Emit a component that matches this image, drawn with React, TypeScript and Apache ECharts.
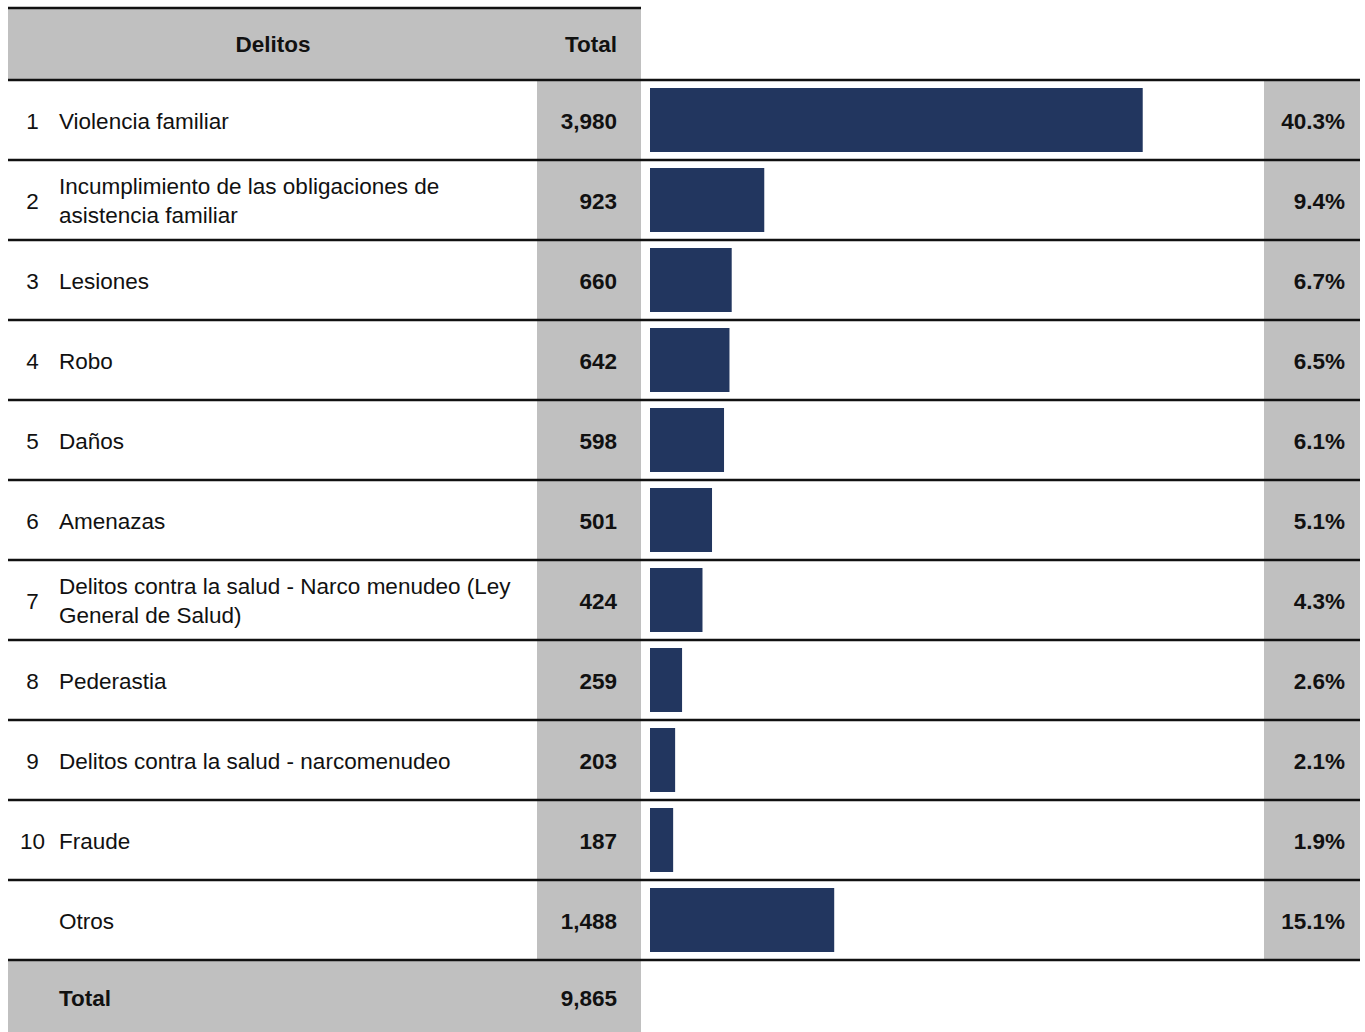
import React, { useEffect, useRef } from "react";
import * as echarts from "echarts";

const rowNumbers = ["1", "2", "3", "4", "5", "6", "7", "8", "9", "10", ""];
const categories = [
  "Violencia familiar",
  "Incumplimiento de las obligaciones de\nasistencia familiar",
  "Lesiones",
  "Robo",
  "Daños",
  "Amenazas",
  "Delitos contra la salud - Narco menudeo (Ley\nGeneral de Salud)",
  "Pederastia",
  "Delitos contra la salud - narcomenudeo",
  "Fraude",
  "Otros",
];
const totals = [3980, 923, 660, 642, 598, 501, 424, 259, 203, 187, 1488];
const percents = ["40.3%", "9.4%", "6.7%", "6.5%", "6.1%", "5.1%", "4.3%", "2.6%", "2.1%", "1.9%", "15.1%"];
const grandTotal = 9865;

const FONT = "'Liberation Sans', Arial, sans-serif";
const FS = 22.5;
const GREY = "#c0c0c0";
const BAR = "#22365f";

const fmt = (v: number) => v.toLocaleString("en-US");

export default function App() {
  const ref = useRef<HTMLDivElement>(null);
  useEffect(() => {
    if (!ref.current) return;
    const chart = echarts.init(ref.current, null, { renderer: "svg" });
    const top = 80;
    const rowH = 80;
    const n = categories.length;
    const graphics: any[] = [];
    graphics.push({ type: "rect", z: 0, shape: { x: 8, y: 8, width: 633, height: top - 8 }, style: { fill: GREY } });
    graphics.push({ type: "rect", z: 0, shape: { x: 537, y: top, width: 104, height: rowH * n }, style: { fill: GREY } });
    graphics.push({ type: "rect", z: 0, shape: { x: 1264, y: top, width: 96, height: rowH * n }, style: { fill: GREY } });
    graphics.push({ type: "rect", z: 0, shape: { x: 8, y: top + rowH * n, width: 633, height: 1032 - (top + rowH * n) }, style: { fill: GREY } });
    graphics.push({ type: "line", z: 10, shape: { x1: 8, y1: 8, x2: 641, y2: 8 }, style: { stroke: "#111", lineWidth: 2.5 } });
    for (let i = 0; i <= n; i++) {
      const y = top + rowH * i;
      graphics.push({ type: "line", z: 10, shape: { x1: 8, y1: y, x2: 1360, y2: y }, style: { stroke: "#111", lineWidth: 2.5 } });
    }
    graphics.push({ type: "text", z: 20, x: 273, y: 44, style: { text: "Delitos", fontFamily: FONT, fontSize: FS, fontWeight: "bold", fill: "#111", align: "center", verticalAlign: "middle" } });
    graphics.push({ type: "text", z: 20, x: 617, y: 44, style: { text: "Total", fontFamily: FONT, fontSize: FS, fontWeight: "bold", fill: "#111", align: "right", verticalAlign: "middle" } });
    for (let i = 0; i < n; i++) {
      const cy = top + rowH * i + 41;
      graphics.push({ type: "text", z: 20, x: 32.5, y: cy, style: { text: rowNumbers[i], fontFamily: FONT, fontSize: FS, fill: "#111", align: "center", verticalAlign: "middle" } });
      graphics.push({ type: "text", z: 20, x: 59, y: cy, style: { text: categories[i], fontFamily: FONT, fontSize: FS, lineHeight: 29, fill: "#111", align: "left", verticalAlign: "middle" } });
      graphics.push({ type: "text", z: 20, x: 617, y: cy, style: { text: fmt(totals[i]), fontFamily: FONT, fontSize: FS, fontWeight: "bold", fill: "#111", align: "right", verticalAlign: "middle" } });
      graphics.push({ type: "text", z: 20, x: 1345, y: cy, style: { text: percents[i], fontFamily: FONT, fontSize: FS, fontWeight: "bold", fill: "#111", align: "right", verticalAlign: "middle" } });
    }
    const ty = top + rowH * n + 38;
    graphics.push({ type: "text", z: 20, x: 59, y: ty, style: { text: "Total", fontFamily: FONT, fontSize: FS, fontWeight: "bold", fill: "#111", align: "left", verticalAlign: "middle" } });
    graphics.push({ type: "text", z: 20, x: 617, y: ty, style: { text: fmt(grandTotal), fontFamily: FONT, fontSize: FS, fontWeight: "bold", fill: "#111", align: "right", verticalAlign: "middle" } });

    chart.setOption({
      animation: false,
      backgroundColor: "#fff",
      grid: { left: 650, top: top, width: 619, height: rowH * n },
      xAxis: { type: "value", min: 0, max: 5000, show: false },
      yAxis: { type: "category", data: categories, inverse: true, show: false },
      series: [
        {
          type: "bar",
          data: totals,
          barWidth: 64,
          itemStyle: { color: BAR },
          silent: true,
        },
      ],
      graphic: graphics,
    });
    return () => chart.dispose();
  }, []);
  return (
    <div
      ref={ref}
      style={{ position: "fixed", left: 0, top: 0, width: 1365, height: 1032 }}
    />
  );
}
